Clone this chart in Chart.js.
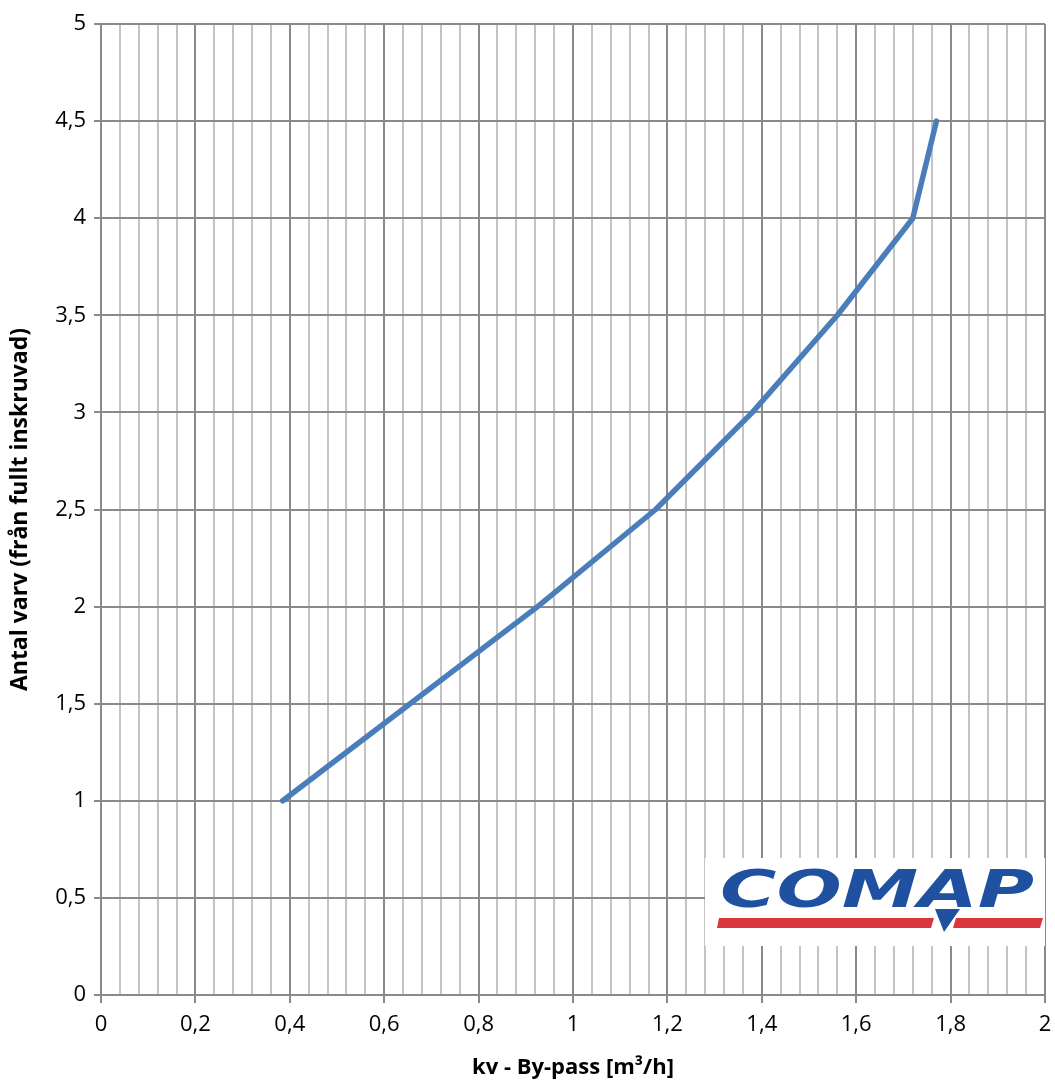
<!DOCTYPE html>
<html>
<head>
<meta charset="utf-8">
<script src="https://cdn.jsdelivr.net/npm/chart.js@4/dist/chart.umd.min.js"></script>
<style>
  html, body { margin: 0; padding: 0; background: #fff; }
  .chart { width: 1055px; height: 1082px; }
</style>
</head>
<body>
<div class="chart"><canvas></canvas></div>
<script>
// kv (m3/h) against number of turns
const kvValues = [0.385, 0.925, 1.175, 1.38, 1.56, 1.72, 1.77];
const turnValues = [1, 2, 2.5, 3, 3.5, 4, 4.5];
const yTicks = [0, 0.5, 1, 1.5, 2, 2.5, 3, 3.5, 4, 4.5, 5];
const xMajorTicks = [0, 0.2, 0.4, 0.6, 0.8, 1, 1.2, 1.4, 1.6, 1.8, 2];
const xMinorStep = 0.04;

const colors = {
  line: "#4a7ebb",
  major: "#8a8a8a",
  minor: "#c4c4c4",
  text: "#000",
};

const fmt = (v) => String(Number(v.toFixed(2))).replace(".", ",");
const isMajor = (v) => xMajorTicks.some((m) => Math.abs(m - v) < 1e-6);

// logo in the lower right corner, drawn after the data
const logoPlugin = {
  id: "logo",
  afterDraw(chart) {
    const ctx = chart.ctx;
    const x0 = 705, y0 = 858, w = 340, h = 88;
    ctx.save();
    ctx.fillStyle = "#fff";
    ctx.fillRect(x0, y0, w, h);
    // red bars
    ctx.fillStyle = "#d9363e";
    ctx.beginPath();
    ctx.moveTo(719, 918); ctx.lineTo(934, 918); ctx.lineTo(931, 928); ctx.lineTo(717, 928);
    ctx.closePath(); ctx.fill();
    ctx.beginPath();
    ctx.moveTo(956, 918); ctx.lineTo(1043, 918); ctx.lineTo(1040, 928); ctx.lineTo(953, 928);
    ctx.closePath(); ctx.fill();
    // text
    ctx.fillStyle = "#1f51a0";
    ctx.font = "italic 900 52px 'DejaVu Sans'";
    ctx.textBaseline = "alphabetic";
    const text = "COMAP";
    const tw = ctx.measureText(text).width;
    ctx.translate(720, 907);
    ctx.scale(314 / tw, 1);
    ctx.fillText(text, 0, 0);
    ctx.restore();
    ctx.save();
    ctx.fillStyle = "#1f51a0";
    ctx.beginPath();
    ctx.moveTo(935, 909); ctx.lineTo(960, 909); ctx.lineTo(944, 932);
    ctx.closePath(); ctx.fill();
    ctx.restore();
  },
};

Chart.defaults.font.family = "'Open Sans', Lato, sans-serif";
Chart.defaults.color = colors.text;

const ctx = document.querySelector(".chart canvas").getContext("2d");

new Chart(ctx, {
  type: "scatter",
  data: {
    datasets: [
      {
        data: kvValues.map((x, i) => ({ x, y: turnValues[i] })),
        showLine: true,
        borderColor: colors.line,
        borderWidth: 5.5,
        borderCapStyle: "round",
        borderJoinStyle: "round",
        pointRadius: 0,
        pointHoverRadius: 0,
        tension: 0,
      },
    ],
  },
  options: {
    animation: false,
    responsive: true,
    maintainAspectRatio: false,
    layout: {
      padding: { top: 24, right: 10, left: 0, bottom: 0 },
    },
    plugins: {
      legend: { display: false },
      tooltip: { enabled: false },
    },
    scales: {
      x: {
        type: "linear",
        min: 0,
        max: 2,
        afterBuildTicks(scale) {
          const n = Math.round(2 / xMinorStep);
          const ticks = [];
          for (let i = 0; i <= n; i++) ticks.push({ value: +(i * xMinorStep).toFixed(2) });
          scale.ticks = ticks;
        },
        afterFit(scale) {
          scale.height = 87;
          scale.paddingLeft = 0;
          scale.paddingRight = 0;
        },
        ticks: {
          autoSkip: false,
          maxRotation: 0,
          padding: 9,
          font: { size: 22 },
          callback: (v) => (isMajor(v) ? fmt(v) : ""),
        },
        grid: {
          color: (c) => (c.tick && isMajor(c.tick.value) ? colors.major : colors.minor),
          tickColor: (c) => (c.tick && isMajor(c.tick.value) ? colors.major : "rgba(0,0,0,0)"),
          lineWidth: 2,
          tickLength: 8,
        },
        border: { color: colors.major, width: 2 },
        title: {
          display: true,
          text: "kv - By-pass [m³/h]",
          font: { size: 22, weight: "bold" },
          padding: { top: 0, bottom: 1 },
        },
      },
      y: {
        min: 0,
        max: 5,
        afterBuildTicks(scale) {
          scale.ticks = yTicks.map((v) => ({ value: v }));
        },
        afterFit(scale) {
          scale.width = 101;
        },
        ticks: {
          padding: 8,
          font: { size: 22 },
          callback: (v) => fmt(v),
        },
        grid: {
          color: colors.major,
          lineWidth: 2,
          tickLength: 7,
        },
        border: { color: colors.major, width: 2 },
        title: {
          display: true,
          text: "Antal varv (från fullt inskruvad)",
          font: { size: 23, weight: "bold" },
          padding: { top: 7, bottom: 4 },
        },
      },
    },
  },
  plugins: [logoPlugin],
});
</script>
</body>
</html>
